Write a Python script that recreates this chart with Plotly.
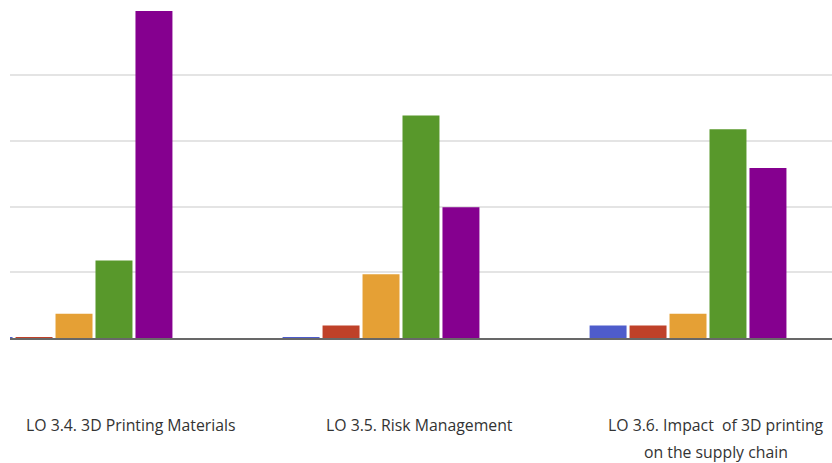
import plotly.graph_objects as go

# Learning outcomes (one group of bars each)
categories = [
    "LO 3.4. 3D Printing Materials",
    "LO 3.5. Risk Management",
    "LO 3.6. Impact  of 3D printing on the supply chain",
]
# Category labels as they are broken into lines under the chart
label_lines = [
    ["LO 3.4. 3D Printing Materials"],
    ["LO 3.5. Risk Management"],
    ["LO 3.6. Impact\u00a0\u00a0of 3D printing", "on the supply chain"],
]

# Five response levels, one series each
series_names = ["1", "2", "3", "4", "5"]
series_colors = ["#4e5ccb", "#bf4129", "#e5a035", "#58982b", "#85008f"]
level_1 = [0.1, 0.1, 1.9]
level_2 = [0.1, 1.9, 1.9]
level_3 = [3.7, 9.7, 3.7]
level_4 = [11.8, 33.9, 31.8]
level_5 = [49.8, 19.9, 25.9]
series_values = [level_1, level_2, level_3, level_4, level_5]

positions = list(range(len(categories)))

fig = go.Figure()
for name, color, vals in zip(series_names, series_colors, series_values):
    fig.add_trace(go.Bar(
        x=positions,
        y=vals,
        name=name,
        marker=dict(color=color, line=dict(width=0)),
        showlegend=False,
    ))

# Category labels placed below the plot area
label_x = [0.1475, 0.4987, 0.8589]
for cx, lines in zip(label_x, label_lines):
    for i, line in enumerate(lines):
        fig.add_annotation(
            x=cx, y=-0.265 - i * 0.082,
            xref="paper", yref="paper",
            text=line, showarrow=False,
            xanchor="center", yanchor="middle",
            font=dict(family="Open Sans, Lato, sans-serif", size=15.8, color="#333333"),
        )

fig.update_layout(
    width=832,
    height=463,
    margin=dict(l=10, r=0, t=9, b=125),
    paper_bgcolor="white",
    plot_bgcolor="white",
    barmode="group",
    bargap=0.349,
    bargroupgap=0.075,
    xaxis=dict(
        range=[-0.2085, 2.469],
        showticklabels=False,
        showgrid=False,
        zeroline=False,
        showline=True,
        linecolor="#686868",
        linewidth=2,
        ticks="",
    ),
    yaxis=dict(
        range=[0, 50.1],
        tickvals=[10, 20, 30, 40, 50],
        showticklabels=False,
        showgrid=True,
        gridcolor="#e4e4e4",
        gridwidth=1.5,
        zeroline=False,
        showline=False,
        ticks="",
    ),
)

fig.write_html("out.html")
